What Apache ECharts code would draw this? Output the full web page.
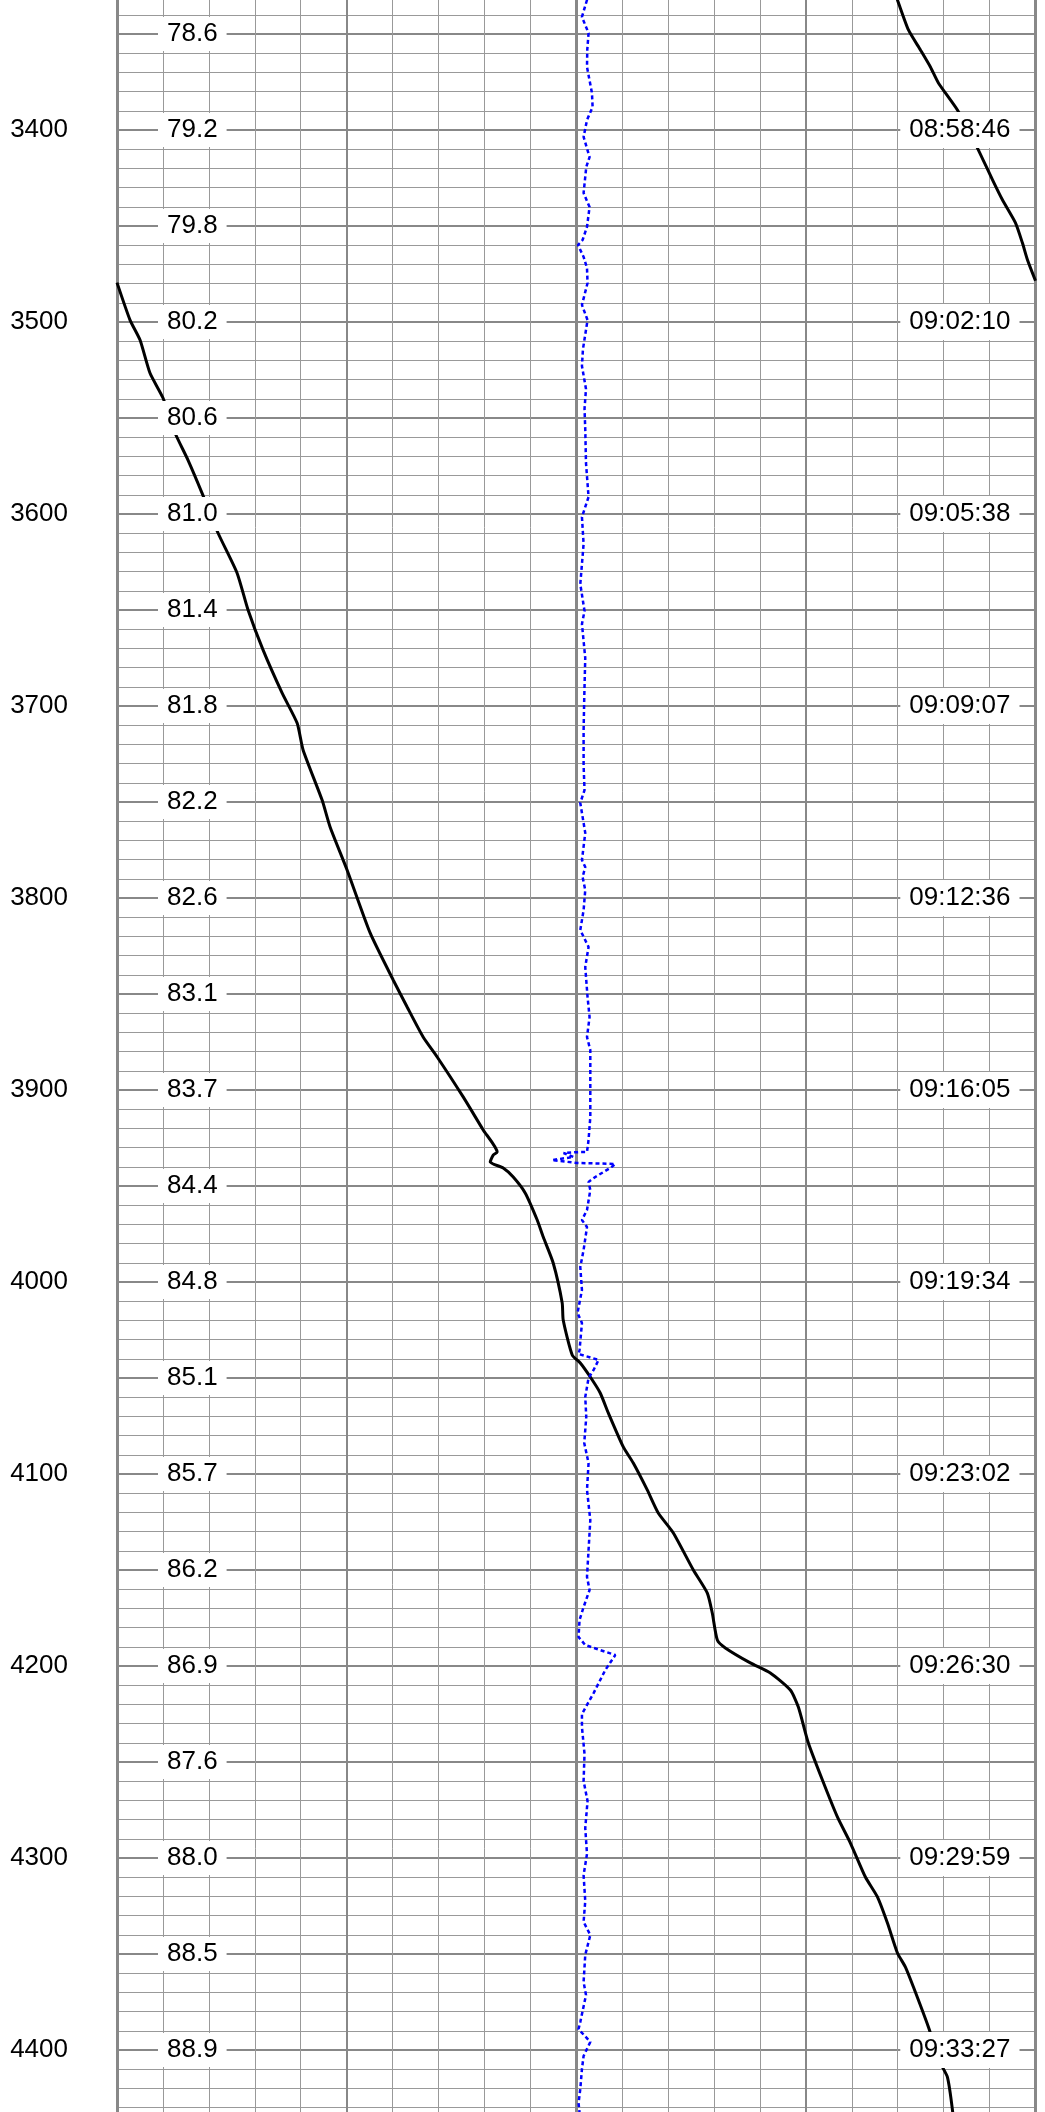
<!DOCTYPE html>
<html>
<head>
<meta charset="utf-8">
<script src="https://cdn.jsdelivr.net/npm/echarts@6/dist/echarts.min.js"></script>
<style>
  html, body { margin: 0; padding: 0; background: #fff; }
  #chart { width: 1045px; height: 2112px; }
</style>
</head>
<body>
<div id="chart"></div>
<script>
// depth ticks (left) and logging time at each depth (right)
const depthTicks = [3400, 3500, 3600, 3700, 3800, 3900, 4000, 4100, 4200, 4300, 4400];
const timeLabels = ['08:58:46', '09:02:10', '09:05:38', '09:09:07', '09:12:36', '09:16:05',
  '09:19:34', '09:23:02', '09:26:30', '09:29:59', '09:33:27'];

// inclination read every 50 m
const inclDepths = [3350, 3400, 3450, 3500, 3550, 3600, 3650, 3700, 3750, 3800, 3850,
  3900, 3950, 4000, 4050, 4100, 4150, 4200, 4250, 4300, 4350, 4400];
const inclLabels = ['78.6', '79.2', '79.8', '80.2', '80.6', '81.0', '81.4', '81.8', '82.2', '82.6', '83.1',
  '83.7', '84.4', '84.8', '85.1', '85.7', '86.2', '86.9', '87.6', '88.0', '88.5', '88.9'];

// black curve [track %, depth]; it wraps from the right edge back to the left
const blackUpper = [[84.0, 3320], [84.97, 3332.3], [86.17, 3347.9], [87.47, 3358.3], [88.56, 3367.2],
  [89.43, 3375.5], [91.5, 3389.6], [93.68, 3409.4], [95.32, 3426.0], [96.41, 3436.5], [97.82, 3448.4],
  [98.58, 3458.9], [99.13, 3467.7], [100, 3478.5]];
const blackLower = [[0, 3479.5], [1.42, 3499.0], [2.51, 3509.4], [3.59, 3526.6], [5.01, 3539.6],
  [6.32, 3557.8], [7.73, 3571.9], [9.26, 3589.1], [11.0, 3609.9], [13.07, 3630.7], [14.27, 3650.0],
  [15.9, 3670.8], [17.97, 3693.2], [19.61, 3708.9], [20.26, 3722.9], [22.33, 3749.0], [23.2, 3763.0],
  [25.05, 3785.4], [27.56, 3818.2], [30.07, 3842.7], [31.59, 3856.8], [33.33, 3872.4], [34.86, 3882.8],
  [37.69, 3903.6], [39.87, 3920.8], [41.39, 3932.3], [40.96, 3933.9], [40.63, 3937.5], [42.05, 3940.6],
  [43.14, 3945.3], [44.44, 3953.6], [45.75, 3967.7], [46.41, 3976.6], [47.49, 3990.1], [48.47, 4010.9],
  [48.58, 4019.8], [49.56, 4038.0], [50.44, 4042.2], [51.53, 4049.5], [52.61, 4057.8], [53.49, 4068.2],
  [55.12, 4085.9], [56.21, 4094.3], [57.73, 4108.3], [58.93, 4120.3], [60.57, 4130.7], [62.75, 4150.0],
  [64.27, 4162.0], [64.81, 4172.4], [65.36, 4186.5], [66.23, 4190.6], [68.95, 4198.4], [71.13, 4203.6],
  [73.31, 4212.5], [74.18, 4221.4], [75.27, 4240.1], [76.8, 4259.4], [78.43, 4278.6], [79.85, 4292.2],
  [81.48, 4309.9], [82.79, 4320.3], [83.88, 4333.9], [84.97, 4349.5], [85.84, 4356.8], [86.71, 4367.2],
  [88.34, 4388.0], [89.65, 4406.8], [90.41, 4414.1], [90.96, 4431.3], [91.2, 4445]];

// blue dotted curve [track %, depth]
const blueCurve = [[51.0, 3325], [51.17, 3332.3], [50.62, 3341.1], [51.34, 3349.5], [51.2, 3358.3],
  [51.17, 3367.2], [51.71, 3380.7], [51.78, 3388.0], [51.17, 3394.8], [50.8, 3403.6], [51.45, 3414.1],
  [51.09, 3419.3], [50.8, 3432.8], [51.45, 3440.1], [51.17, 3450.5], [50.69, 3457.3], [50.19, 3459.9],
  [50.8, 3466.1], [51.17, 3471.9], [51.23, 3479.7], [50.62, 3491.1], [51.23, 3499.0], [50.73, 3514.1],
  [50.62, 3522.9], [51.06, 3534.9], [50.9, 3545.3], [50.98, 3555.7], [51.06, 3573.4], [51.34, 3591.1],
  [50.62, 3601.6], [50.8, 3615.6], [50.44, 3636.5], [50.9, 3650.5], [50.62, 3657.3], [50.98, 3675.0],
  [50.87, 3695.8], [50.8, 3713.0], [50.8, 3730.7], [50.9, 3743.8], [50.44, 3750.5], [50.98, 3766.1],
  [50.62, 3780.2], [50.98, 3783.9], [50.69, 3789.1], [50.98, 3795.8], [50.8, 3806.3], [50.44, 3816.7],
  [51.34, 3825.5], [50.98, 3835.9], [51.23, 3851.6], [51.45, 3862.0], [51.17, 3872.4], [51.53, 3879.2],
  [51.53, 3896.4], [51.53, 3914.1], [51.34, 3926.0], [51.17, 3932.3], [50.44, 3932.3], [48.62, 3932.8],
  [49.71, 3934.9], [47.35, 3936.5], [50.08, 3938.0], [54.25, 3938.5], [53.7, 3940.6], [52.07, 3945.3],
  [51.34, 3947.9], [51.53, 3952.1], [51.17, 3962.5], [50.62, 3967.7], [51.17, 3971.4], [50.8, 3983.3],
  [50.44, 3992.2], [50.62, 4004.2], [50.14, 4016.1], [50.62, 4021.4], [50.36, 4035.4], [50.25, 4037.5],
  [52.43, 4040.6], [51.89, 4045.8], [51.34, 4050.0], [50.98, 4059.9], [51.09, 4070.3], [50.87, 4083.9],
  [51.34, 4094.3], [51.17, 4108.3], [51.53, 4124.0], [51.34, 4139.6], [51.17, 4153.6], [51.45, 4160.4],
  [50.8, 4169.3], [50.36, 4176.0], [50.25, 4184.9], [50.98, 4189.1], [54.25, 4194.3], [53.16, 4202.1],
  [51.89, 4214.1], [50.62, 4225.0], [50.62, 4231.8], [50.9, 4245.8], [50.8, 4259.9], [51.23, 4270.3],
  [50.98, 4284.4], [51.17, 4297.9], [50.8, 4308.9], [50.98, 4322.4], [50.8, 4333.3], [51.53, 4340.1],
  [50.98, 4350.5], [50.8, 4364.6], [51.06, 4371.4], [50.44, 4385.4], [50.25, 4389.1], [51.53, 4395.8],
  [50.8, 4403.1], [50.62, 4409.9], [50.44, 4420.3], [50.25, 4427.6], [50.44, 4436.5]];

const fontFamily = 'Arial, "Liberation Sans", sans-serif';
const timeByDepth = {};
depthTicks.forEach((d, i) => { timeByDepth[d] = timeLabels[i]; });
const inclByDepth = {};
inclDepths.forEach((d, i) => { inclByDepth[d] = inclLabels[i]; });

const chart = echarts.init(document.getElementById('chart'));

const xBase = {
  type: 'value', min: 0, max: 100,
  axisLine: { show: false }, axisTick: { show: false }, axisLabel: { show: false }
};
const yBase = {
  type: 'value', inverse: true, min: 3300, max: 4450,
  axisLine: { show: false }, axisTick: { show: false }
};

const option = {
  animation: false,
  backgroundColor: '#fff',
  grid: { left: 117, right: 9.5, top: -62, bottom: -34, outerBoundsMode: 'none' },
  xAxis: [
    { ...xBase, interval: 5, splitLine: { lineStyle: { color: '#999', width: 1 } } },
    { ...xBase, interval: 25, splitLine: { lineStyle: { color: '#888', width: 2 } } },
    { ...xBase, interval: 50, splitLine: { lineStyle: { color: '#888', width: 3 } } }
  ],
  yAxis: [
    { ...yBase, position: 'left', interval: 10, axisLabel: { show: false },
      splitLine: { lineStyle: { color: '#999', width: 1 } } },
    { ...yBase, position: 'left', interval: 50, axisLabel: { show: false },
      splitLine: { lineStyle: { color: '#888', width: 2 } } },
    { ...yBase, position: 'left', interval: 100, splitLine: { show: false },
      axisLabel: {
        margin: 49, fontSize: 26, color: '#000', fontFamily,
        formatter: v => (timeByDepth[v] ? String(v) : '')
      } },
    { ...yBase, position: 'left', interval: 50, z: 10, splitLine: { show: false },
      axisLabel: {
        inside: true, margin: 41, fontSize: 26, color: '#000', fontFamily,
        lineHeight: 26, padding: [4, 9], backgroundColor: '#fff',
        formatter: v => inclByDepth[v] || ''
      } },
    { ...yBase, position: 'right', interval: 100, z: 10, splitLine: { show: false },
      axisLabel: {
        inside: true, margin: 16, fontSize: 26, color: '#000', fontFamily,
        lineHeight: 26, padding: [5, 9], backgroundColor: '#fff',
        formatter: v => timeByDepth[v] || ''
      } }
  ],
  series: [
    { type: 'line', data: blackUpper, symbol: 'none', smooth: 0.2, xAxisIndex: 0, yAxisIndex: 0,
      lineStyle: { color: '#000', width: 3 } },
    { type: 'line', data: blackLower, symbol: 'none', smooth: 0.2, xAxisIndex: 0, yAxisIndex: 0,
      lineStyle: { color: '#000', width: 3 } },
    { type: 'line', data: blueCurve, symbol: 'none', xAxisIndex: 0, yAxisIndex: 0,
      lineStyle: { color: '#0000ff', width: 2.5, type: [4, 3] } }
  ]
};

chart.setOption(option);
</script>
</body>
</html>
